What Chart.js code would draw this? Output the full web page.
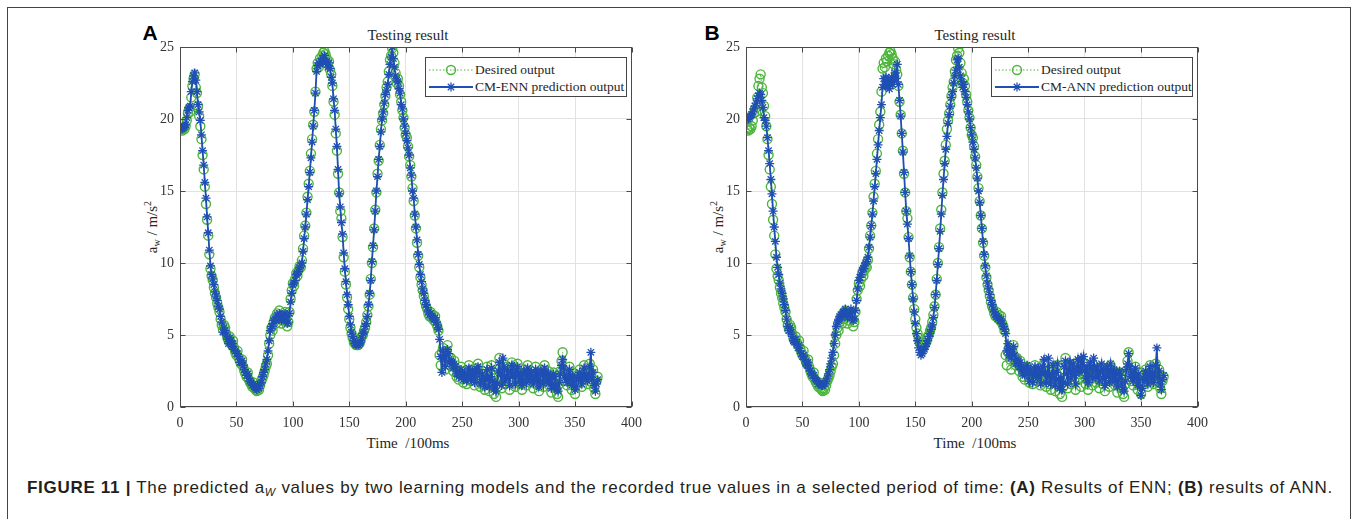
<!DOCTYPE html>
<html>
<head>
<meta charset="utf-8">
<script src="https://cdn.jsdelivr.net/npm/chart.js@4/dist/chart.umd.min.js"></script>
<style>
  html, body { margin: 0; padding: 0; background: #fff; }
  #page { position: relative; width: 1357px; height: 519px; overflow: hidden; background: #fff; }
  .frame { position: absolute; left: 7px; top: 7px; width: 1342px; height: 600px; border: 1px solid #444; }
  canvas { position: absolute; }
  .serif { font-family: "Liberation Serif", "Times New Roman", serif; color: #262626; position: absolute; white-space: nowrap; }
  .ttl { font-size: 15px; transform: translate(-50%, -50%); }
  .ylab { font-size: 15px; transform: translate(-50%, -50%) rotate(-90deg); }
  .ylab sub { font-size: 10px; vertical-align: -3px; }
  .ylab sup { font-size: 10px; vertical-align: 6px; }
  .letter { position: absolute; font-family: "Liberation Sans", Arial, sans-serif; font-weight: bold; font-size: 21px; color: #000; transform: translate(-50%, -50%); }
  .legend { position: absolute; width: 202px; height: 40px; border: 1px solid #444; background: #fff; box-sizing: border-box; }
  .legend svg { position: absolute; left: 2px; }
  .legend span { position: absolute; left: 49px; font-family: "Liberation Serif", "Times New Roman", serif; font-size: 13.5px; color: #262626; transform: translateY(-50%); white-space: nowrap; }
  .caption { position: absolute; left: 27px; top: 488px; transform: translateY(-50%); font-family: "Liberation Sans", Arial, sans-serif; font-size: 17px; letter-spacing: 0.7px; color: #231f20; white-space: nowrap; }
  .caption sub { font-size: 11px; font-style: italic; vertical-align: -3px; }
</style>
</head>
<body>
<div id="page">
  <div class="frame"></div>

  <div class="letter" style="left:150px; top:33px;">A</div>
  <div class="letter" style="left:712px; top:33px;">B</div>

  <div class="serif ttl" style="left:408px; top:35px;">Testing result</div>
  <div class="serif ttl" style="left:975px; top:35px;">Testing result</div>

  <div class="serif ylab" style="left:152px; top:227px;">a<sub>w</sub> / m/s<sup>2</sup></div>
  <div class="serif ylab" style="left:718px; top:227px;">a<sub>w</sub> / m/s<sup>2</sup></div>

  <div class="serif ttl" style="left:408px; top:443px;">Time &nbsp;/100ms</div>
  <div class="serif ttl" style="left:975px; top:443px;">Time &nbsp;/100ms</div>

  <canvas id="chartA" width="520" height="420" style="left:130px; top:30px;"></canvas>
  <canvas id="chartB" width="520" height="420" style="left:696px; top:30px;"></canvas>

  <div class="legend" style="left:425px; top:57px;">
    <svg width="46" height="14" style="top:5px;"><line x1="1" y1="7" x2="45" y2="7" stroke="#4db53c" stroke-width="1" stroke-dasharray="1.5,2"/><circle cx="23" cy="7" r="4.5" fill="none" stroke="#4db53c" stroke-width="1.4"/></svg>
    <span style="top:12px;">Desired output</span>
    <svg width="46" height="14" style="top:22px;"><line x1="1" y1="7" x2="45" y2="7" stroke="#1f4fb4" stroke-width="1.8"/><path d="M23 2.5V11.5M18.5 7H27.5M19.8 3.8L26.2 10.2M26.2 3.8L19.8 10.2" stroke="#1f4fb4" stroke-width="1.3"/></svg>
    <span style="top:29px;">CM-ENN prediction output</span>
  </div>
  <div class="legend" style="left:991px; top:57px;">
    <svg width="46" height="14" style="top:5px;"><line x1="1" y1="7" x2="45" y2="7" stroke="#4db53c" stroke-width="1" stroke-dasharray="1.5,2"/><circle cx="23" cy="7" r="4.5" fill="none" stroke="#4db53c" stroke-width="1.4"/></svg>
    <span style="top:12px;">Desired output</span>
    <svg width="46" height="14" style="top:22px;"><line x1="1" y1="7" x2="45" y2="7" stroke="#1f4fb4" stroke-width="1.8"/><path d="M23 2.5V11.5M18.5 7H27.5M19.8 3.8L26.2 10.2M26.2 3.8L19.8 10.2" stroke="#1f4fb4" stroke-width="1.3"/></svg>
    <span style="top:29px;">CM-ANN prediction output</span>
  </div>

  <div class="caption"><b>FIGURE 11 |</b> The predicted a<sub>W</sub> values by two learning models and the recorded true values in a selected period of time: <b>(A)</b> Results of ENN; <b>(B)</b> results of ANN.</div>
</div>

<script>
// recorded true values (desired output), one per 100 ms sample, t = 1..370
const desired = [
  19.3, 19.2, 19.4, 19.3, 19.5, 19.9, 20.4, 20.7, 20.5, 21.5,
  22.3, 22.8, 23.1, 22.2, 21.8, 20.9, 20.2, 19.5, 18.6, 17.5,
  16.5, 15.3, 14.1, 13.0, 11.9, 10.6, 9.6, 9.1, 8.8, 8.3,
  7.9, 7.6, 7.2, 6.9, 6.6, 6.1, 5.7, 5.4, 5.7, 5.5,
  5.1, 4.8, 4.6, 4.9, 4.5, 4.3, 4.6, 4.1, 3.8, 3.6,
  3.9, 3.4, 3.2, 3.0, 3.3, 2.8, 2.5, 2.3, 2.1, 2.4,
  1.9, 1.7, 1.6, 1.4, 1.7, 1.3, 1.2, 1.1, 1.3, 1.2,
  1.5, 1.8, 2.0, 2.2, 2.5, 2.8, 3.0, 3.6, 4.4, 5.0,
  5.5, 5.3, 5.9, 6.2, 5.8, 6.5, 6.1, 6.7, 6.3, 5.8,
  6.0, 6.4, 6.6, 6.2, 5.6, 5.9, 6.6, 7.5, 8.1, 8.6,
  8.4, 8.9, 9.3, 9.1, 9.5, 9.8, 9.7, 10.2, 11.0, 11.9,
  12.6, 13.5, 14.6, 15.5, 16.4, 17.6, 18.6, 19.6, 20.5, 21.9,
  23.5, 23.9, 23.6, 24.2, 24.0, 24.4, 24.6, 24.7, 24.5, 24.2,
  23.8, 24.0, 23.4, 23.1, 22.3, 21.2, 20.3, 19.0, 17.8, 16.2,
  14.9, 13.6, 13.1, 11.8, 10.4, 9.4, 8.5, 7.6, 6.8, 6.1,
  5.5, 5.1, 4.8, 4.5, 4.4, 4.3, 4.5, 4.3, 4.4, 4.6,
  4.9, 5.0, 5.3, 5.5, 5.9, 6.4, 7.0, 7.8, 8.9, 10.0,
  11.1, 12.4, 13.7, 14.9, 16.2, 17.1, 18.2, 19.3, 19.9, 20.4,
  21.0, 21.6, 22.2, 22.6, 23.3, 24.1, 24.4, 24.9, 24.6, 23.9,
  23.2, 22.5, 22.8, 22.3, 21.7, 21.2, 20.6, 20.1, 19.4, 18.9,
  18.7, 18.1, 17.4, 16.8, 16.0, 15.2, 14.3, 13.3, 12.4, 11.4,
  10.5, 9.7, 9.0, 8.5, 8.1, 7.7, 7.3, 7.0, 6.8, 6.5,
  6.3, 6.6, 6.2, 6.4, 6.0, 6.3, 5.8, 5.6, 5.3, 3.6,
  2.9, 3.8, 4.1, 3.3, 2.6, 3.9, 4.3, 3.5, 2.9, 3.4,
  3.0, 2.5, 3.2, 2.7, 2.1, 2.6, 1.9, 2.4, 2.8, 2.2,
  1.7, 2.5, 2.0, 1.6, 2.3, 2.9, 2.1, 1.8, 2.6, 2.3,
  1.5, 2.0, 2.7, 3.0, 2.2, 1.4, 1.9, 2.5, 1.6, 1.2,
  2.1, 2.8, 1.7, 1.1, 2.3, 2.9, 1.5, 0.9, 1.8, 0.7,
  1.4, 2.6, 3.4, 2.0, 1.3, 2.4, 3.0, 1.6, 2.2, 2.8,
  1.8, 1.2, 2.5, 3.1, 1.9, 2.3, 1.4, 2.7, 3.0, 2.1,
  1.6, 2.4, 1.2, 1.8, 2.6, 2.2, 1.5, 2.9, 2.3, 1.7,
  2.5, 1.9, 1.3, 2.2, 2.8, 1.6, 2.4, 1.1, 1.9, 2.6,
  2.1, 1.4, 2.9, 2.3, 1.8, 2.5, 1.5, 2.2, 1.0, 1.7,
  2.4, 2.0, 1.3, 0.9, 0.7, 1.6, 2.5, 3.2, 3.8, 2.6,
  1.8, 2.3, 1.5, 2.1, 2.8, 1.9, 1.2, 2.4, 1.7, 0.9,
  1.5, 2.2, 1.8, 2.6, 2.0, 1.4, 2.3, 2.9, 1.9, 2.5,
  1.6, 2.2, 3.0, 2.4, 1.7, 2.6, 1.3, 0.9, 1.8, 2.1
];

// CM-ENN prediction output (panel A)
const ennPred = [
  19.4, 19.3, 19.4, 19.5, 19.6, 20.1, 20.6, 20.8, 20.9, 21.9,
  22.6, 23.0, 23.2, 22.7, 21.9, 21.0, 20.5, 19.9, 18.9, 17.8,
  16.8, 15.6, 14.5, 13.2, 12.1, 10.9, 9.8, 9.2, 8.9, 8.5,
  8.0, 7.7, 7.4, 7.0, 6.8, 6.3, 5.9, 5.2, 5.5, 5.3,
  5.0, 4.7, 4.4, 4.8, 4.6, 4.2, 4.4, 4.0, 3.9, 3.7,
  3.7, 3.5, 3.1, 3.1, 3.2, 2.9, 2.6, 2.4, 2.2, 2.3,
  2.0, 1.8, 1.7, 1.5, 1.6, 1.4, 1.3, 1.2, 1.4, 1.3,
  1.6, 1.7, 2.1, 2.4, 2.6, 3.0, 3.3, 3.9, 4.6, 5.3,
  5.6, 5.6, 6.0, 6.1, 6.0, 6.4, 6.2, 6.5, 6.4, 6.0,
  6.1, 6.3, 6.5, 6.3, 5.8, 5.9, 6.5, 7.3, 7.9, 8.5,
  8.6, 8.8, 9.2, 9.3, 9.4, 9.7, 9.8, 10.0, 10.8, 11.7,
  12.5, 13.4, 14.4, 15.3, 16.3, 17.3, 18.4, 19.5, 20.6, 21.8,
  23.3, 23.7, 23.9, 23.8, 24.0, 24.2, 24.1, 24.4, 23.9, 24.0,
  23.6, 23.9, 23.5, 22.9, 22.5, 21.4, 20.6, 19.3, 18.1, 16.5,
  14.8, 13.9, 12.8, 12.0, 10.7, 9.6, 8.7, 7.8, 7.1, 6.3,
  5.7, 5.2, 4.9, 4.6, 4.4, 4.3, 4.4, 4.3, 4.4, 4.5,
  4.8, 5.1, 5.2, 5.6, 5.8, 6.3, 7.1, 7.9, 8.8, 10.1,
  11.2, 12.3, 13.6, 15.0, 16.0, 17.2, 18.1, 19.1, 20.0, 20.5,
  21.1, 21.7, 22.0, 22.4, 23.1, 23.8, 24.3, 25.0, 24.2, 23.6,
  23.0, 22.7, 22.6, 22.1, 21.8, 21.0, 20.7, 20.0, 19.5, 19.0,
  18.5, 18.0, 17.5, 16.6, 16.1, 15.0, 14.5, 13.4, 12.5, 11.6,
  10.6, 9.9, 9.2, 8.7, 8.2, 7.9, 7.4, 7.1, 6.9, 6.6,
  6.4, 6.5, 6.3, 6.2, 6.1, 6.2, 5.9, 5.7, 5.4, 4.7,
  3.5, 2.4, 3.9, 3.4, 2.8, 3.6, 4.0, 3.7, 3.1, 3.2,
  3.1, 2.7, 3.0, 2.8, 2.3, 2.5, 2.1, 2.3, 2.6, 2.3,
  1.9, 2.4, 2.2, 1.8, 2.2, 2.7, 2.3, 1.9, 2.5, 2.4,
  1.7, 2.1, 2.6, 2.8, 2.4, 1.6, 1.9, 2.3, 1.8, 1.4,
  2.0, 2.6, 1.9, 1.4, 2.1, 2.7, 1.8, 1.2, 1.7, 1.1,
  1.6, 2.5, 3.1, 2.2, 1.5, 3.4, 2.8, 1.8, 2.1, 2.6,
  2.0, 1.5, 2.4, 2.9, 2.1, 2.2, 1.6, 2.5, 2.8, 2.2,
  1.8, 2.3, 1.5, 1.9, 2.5, 2.3, 1.7, 2.7, 2.4, 1.9,
  2.4, 2.0, 1.6, 2.1, 2.6, 1.8, 2.3, 1.4, 1.8, 2.5,
  2.2, 1.6, 2.7, 2.4, 1.9, 2.3, 1.7, 2.1, 1.3, 1.6,
  2.3, 2.1, 1.5, 1.2, 1.1, 1.7, 2.3, 2.9, 3.3, 2.7,
  2.0, 2.2, 1.7, 2.0, 2.6, 2.0, 1.5, 2.2, 1.8, 1.2,
  1.4, 2.1, 1.9, 2.4, 2.1, 1.6, 2.2, 2.7, 2.0, 2.3,
  1.8, 2.1, 2.8, 3.8, 1.9, 2.4, 1.5, 1.1, 1.6, 1.9
];

// CM-ANN prediction output (panel B)
const annPred = [
  20.0, 20.0, 20.1, 20.2, 20.3, 20.5, 20.7, 20.9, 21.1, 21.4,
  21.6, 21.8, 21.7, 21.3, 20.8, 20.1, 19.9, 19.5, 18.7, 17.8,
  16.9, 15.8, 14.8, 13.6, 12.5, 11.5, 10.4, 9.7, 9.2, 8.6,
  8.2, 7.9, 7.5, 7.1, 6.7, 6.1, 5.6, 5.3, 5.5, 5.2,
  4.9, 4.6, 4.5, 4.7, 4.4, 4.1, 4.3, 3.9, 3.7, 3.5,
  3.6, 3.3, 3.0, 2.9, 3.1, 2.7, 2.5, 2.3, 2.2, 2.2,
  2.0, 1.9, 1.8, 1.6, 1.7, 1.6, 1.5, 1.5, 1.6, 1.6,
  1.8, 2.0, 2.3, 2.6, 3.0, 3.4, 3.8, 4.4, 5.0, 5.6,
  5.9, 6.0, 6.3, 6.4, 6.2, 6.6, 6.5, 6.8, 6.6, 6.2,
  6.3, 6.5, 6.8, 6.6, 6.0, 6.1, 6.7, 7.4, 8.2, 8.8,
  9.0, 9.2, 9.5, 9.6, 9.8, 10.0, 10.1, 10.4, 11.1, 11.8,
  12.6, 13.4, 14.3, 15.3, 16.2, 17.2, 18.2, 19.2, 20.1, 21.0,
  22.2, 22.8, 22.4, 22.9, 22.3, 22.7, 22.1, 22.5, 22.9, 22.4,
  22.7, 23.2, 22.8, 23.8, 22.4, 21.3, 20.2, 19.0, 17.7, 16.3,
  14.9, 13.6, 12.7, 11.7, 10.5, 9.4, 8.5, 7.5, 6.6, 5.8,
  5.1, 4.6, 4.1, 3.8, 3.6, 3.7, 3.9, 4.0, 4.2, 4.4,
  4.6, 4.9, 5.1, 5.4, 5.7, 6.2, 6.9, 7.8, 8.8, 9.9,
  11.0, 12.2, 13.4, 14.7, 15.8, 16.9, 17.9, 18.8, 19.7, 20.3,
  20.9, 21.5, 21.9, 22.5, 23.0, 23.4, 24.1, 24.2, 23.6, 23.0,
  22.6, 22.2, 22.4, 21.9, 21.5, 21.0, 20.5, 20.0, 19.4, 18.9,
  18.4, 17.9, 17.3, 16.6, 15.9, 15.0, 14.2, 13.3, 12.4, 11.5,
  10.6, 9.8, 9.1, 8.6, 8.2, 7.8, 7.4, 7.1, 6.8, 6.6,
  6.4, 6.3, 6.1, 6.2, 6.0, 6.1, 5.8, 5.6, 5.4, 5.1,
  3.9, 4.4, 3.6, 4.0, 3.4, 3.7, 4.2, 3.6, 3.0, 3.3,
  3.2, 2.8, 3.1, 2.6, 2.3, 2.7, 2.2, 2.5, 2.9, 2.4,
  1.8, 2.6, 2.3, 1.7, 2.4, 2.8, 2.2, 2.0, 2.7, 2.5,
  1.6, 2.3, 2.8, 3.3, 2.4, 1.7, 2.2, 3.4, 2.1, 1.6,
  2.3, 2.9, 2.0, 1.5, 2.4, 3.0, 1.9, 1.3, 2.0, 1.2,
  1.7, 2.8, 3.2, 2.3, 1.6, 2.6, 3.1, 2.0, 2.5, 3.0,
  2.2, 1.6, 2.7, 3.3, 2.4, 2.6, 3.4, 2.9, 3.5, 2.5,
  2.0, 2.8, 1.7, 2.2, 3.1, 2.6, 2.0, 3.4, 2.7, 2.1,
  2.8, 2.3, 1.8, 2.5, 3.0, 2.0, 2.6, 1.5, 2.1, 2.8,
  2.4, 1.7, 3.0, 2.5, 2.0, 2.6, 1.8, 2.3, 1.4, 1.9,
  2.5, 2.2, 1.6, 1.2, 1.1, 1.8, 2.6, 3.0, 3.7, 2.8,
  2.1, 2.4, 1.8, 2.2, 2.7, 2.0, 1.5, 2.3, 1.4, 0.8,
  1.3, 2.0, 1.9, 2.5, 2.1, 1.6, 2.3, 2.8, 2.0, 2.4,
  1.7, 2.2, 2.9, 4.1, 2.0, 2.5, 1.6, 1.2, 1.9, 2.2
];

const xTicks = [0, 50, 100, 150, 200, 250, 300, 350, 400];
const yTicks = [0, 5, 10, 15, 20, 25];

const GREEN = '#4db53c';
const BLUE = '#1f4fb4';
const serif = '"Liberation Serif", "Times New Roman", serif';

// sample index -> time (units of 100 ms)
const toPoints = arr => arr.map((v, i) => ({ x: i + 1, y: v }));

// matlab style box: dark frame with inward ticks on all four sides
const boxTicks = {
    id: 'boxTicks',
    afterDraw(chart) {
        const { ctx, chartArea: a, scales } = chart;
        const L = Math.round(a.left) + 0.5, R = Math.round(a.right) - 0.5;
        const T = Math.round(a.top) + 0.5, B = Math.round(a.bottom) - 0.5;
        ctx.save();
        ctx.strokeStyle = '#4a4a4a';
        ctx.lineWidth = 1;
        ctx.strokeRect(L, T, R - L, B - T);
        ctx.beginPath();
        xTicks.forEach(v => {
            const px = Math.round(scales.x.getPixelForValue(v)) + 0.5;
            ctx.moveTo(px, B); ctx.lineTo(px, B - 5);
            ctx.moveTo(px, T); ctx.lineTo(px, T + 5);
        });
        yTicks.forEach(v => {
            const py = Math.round(scales.y.getPixelForValue(v)) + 0.5;
            ctx.moveTo(L, py); ctx.lineTo(L + 5, py);
            ctx.moveTo(R, py); ctx.lineTo(R - 5, py);
        });
        ctx.stroke();
        ctx.restore();
    }
};

function makePanel(id, pred, rightPad) {
    new Chart(document.getElementById(id).getContext('2d'), {
        type: 'line',
        data: {
            datasets: [
                {
                    data: toPoints(pred),
                    order: 0,
                    borderColor: BLUE,
                    borderWidth: 1.8,
                    pointStyle: 'star',
                    pointRadius: 4.5,
                    pointBorderWidth: 1.3,
                    pointBorderColor: BLUE,
                    pointBackgroundColor: BLUE,
                    tension: 0
                },
                {
                    data: toPoints(desired),
                    order: 1,
                    borderColor: GREEN,
                    borderWidth: 1,
                    borderDash: [1.5, 2],
                    pointStyle: 'circle',
                    pointRadius: 4.5,
                    pointBorderWidth: 1.4,
                    pointBorderColor: GREEN,
                    pointBackgroundColor: 'rgba(0,0,0,0)',
                    tension: 0
                }
            ]
        },
        options: {
            responsive: false,
            animation: false,
            devicePixelRatio: 1,
            layout: { padding: { top: 17, right: rightPad, left: 0, bottom: 0 } },
            plugins: { legend: { display: false }, tooltip: { enabled: false } },
            scales: {
                x: {
                    type: 'linear', min: 0, max: 400,
                    afterBuildTicks: s => { s.ticks = xTicks.map(v => ({ value: v })); },
                    afterFit: s => { s.height = 43; },
                    grid: { color: '#e2e2e2', drawTicks: false },
                    border: { display: false },
                    ticks: { font: { family: serif, size: 14 }, color: '#333', padding: 8, maxRotation: 0 }
                },
                y: {
                    type: 'linear', min: 0, max: 25,
                    afterBuildTicks: s => { s.ticks = yTicks.map(v => ({ value: v })); },
                    afterFit: s => { s.width = 50; },
                    grid: { color: '#e2e2e2', drawTicks: false },
                    border: { display: false },
                    ticks: { font: { family: serif, size: 14 }, color: '#333', padding: 6 }
                }
            }
        },
        plugins: [boxTicks]
    });
}

makePanel('chartA', ennPred, 13);
makePanel('chartB', annPred, 11);
</script>
</body>
</html>
